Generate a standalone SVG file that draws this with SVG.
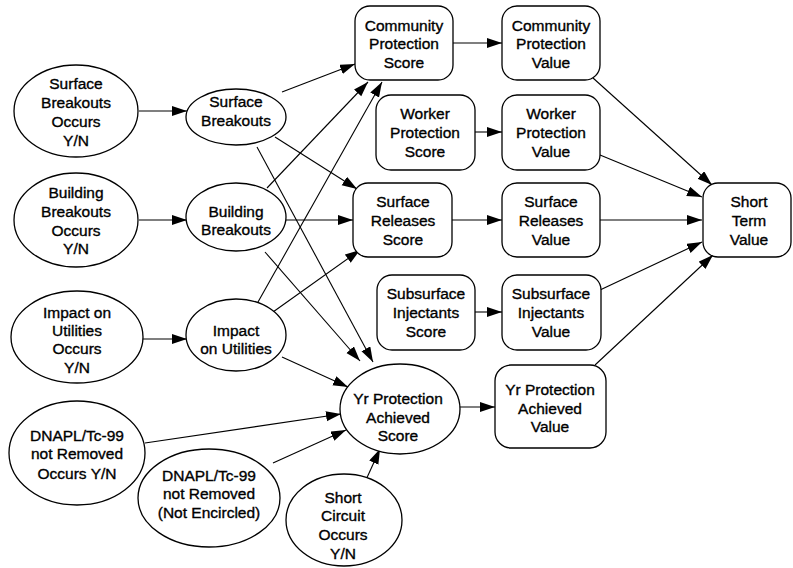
<svg xmlns="http://www.w3.org/2000/svg" width="793" height="568" viewBox="0 0 793 568">
<style>
.n ellipse, .n rect { fill: #fff; stroke: #000; stroke-width: 1.3; }
.n text { font-family: "Liberation Sans", Arial, sans-serif; font-size: 15.5px; fill: #000; stroke: #000; stroke-width: 0.35; text-anchor: middle; }
.e line { stroke: #000; stroke-width: 1.1; marker-end: url(#arr); }
</style>
<defs>
<marker id="arr" markerUnits="userSpaceOnUse" markerWidth="16" markerHeight="12" refX="15" refY="5" orient="auto">
<path d="M0,0 L15,5 L0,10 z" fill="#000"/>
</marker>
</defs>
<rect width="793" height="568" fill="#fff"/>
<g id="connectors" class="e">
<line x1="139" y1="111" x2="187" y2="111"/>
<line x1="139" y1="220" x2="187" y2="220"/>
<line x1="143" y1="339" x2="187" y2="339"/>
<line x1="282" y1="92" x2="355" y2="64"/>
<line x1="267" y1="188" x2="368" y2="82"/>
<line x1="258" y1="302" x2="382" y2="82"/>
<line x1="275" y1="137" x2="357" y2="189"/>
<line x1="286" y1="220" x2="353" y2="220"/>
<line x1="273" y1="312" x2="360" y2="250"/>
<line x1="257" y1="147" x2="373" y2="362"/>
<line x1="265" y1="252" x2="360" y2="361"/>
<line x1="282" y1="357" x2="348" y2="387"/>
<line x1="145" y1="443" x2="341" y2="414"/>
<line x1="273" y1="463" x2="346" y2="430"/>
<line x1="365" y1="482" x2="380" y2="449"/>
<line x1="453" y1="43" x2="502" y2="43"/>
<line x1="475" y1="132" x2="502" y2="132"/>
<line x1="452" y1="220" x2="502" y2="220"/>
<line x1="475" y1="312" x2="502" y2="312"/>
<line x1="459" y1="407" x2="495" y2="407"/>
<line x1="593" y1="78" x2="712" y2="185"/>
<line x1="600" y1="155" x2="702" y2="197"/>
<line x1="600" y1="220" x2="702" y2="220"/>
<line x1="600" y1="290" x2="702" y2="242"/>
<line x1="595" y1="365" x2="713" y2="255"/>
</g>
<g id="surface-breakouts-occurs" class="n">
<ellipse cx="76" cy="111" rx="62" ry="46"/>
<text x="76" y="89">Surface</text><text x="76" y="108">Breakouts</text><text x="76" y="127">Occurs</text><text x="76" y="146">Y/N</text>
</g>
<g id="surface-breakouts" class="n">
<ellipse cx="236" cy="117" rx="50" ry="28"/>
<text x="236" y="107">Surface</text><text x="236" y="126">Breakouts</text>
</g>
<g id="building-breakouts-occurs" class="n">
<ellipse cx="76" cy="220" rx="62" ry="47"/>
<text x="76" y="198">Building</text><text x="76" y="217">Breakouts</text><text x="76" y="236">Occurs</text><text x="76" y="254">Y/N</text>
</g>
<g id="building-breakouts" class="n">
<ellipse cx="236" cy="217" rx="50" ry="34"/>
<text x="236" y="217">Building</text><text x="236" y="235">Breakouts</text>
</g>
<g id="impact-utilities-occurs" class="n">
<ellipse cx="77" cy="337" rx="66" ry="46"/>
<text x="77" y="318">Impact on</text><text x="77" y="336">Utilities</text><text x="77" y="354">Occurs</text><text x="77" y="373">Y/N</text>
</g>
<g id="impact-utilities" class="n">
<ellipse cx="236" cy="335" rx="50" ry="36"/>
<text x="236" y="336">Impact</text><text x="236" y="354">on Utilities</text>
</g>
<g id="dnapl-occurs" class="n">
<ellipse cx="77" cy="453" rx="68" ry="52"/>
<text x="77" y="441">DNAPL/Tc-99</text><text x="77" y="459">not Removed</text><text x="77" y="479">Occurs Y/N</text>
</g>
<g id="dnapl-not-encircled" class="n">
<ellipse cx="209" cy="498" rx="71" ry="49"/>
<text x="209" y="481">DNAPL/Tc-99</text><text x="209" y="499">not Removed</text><text x="209" y="518">(Not Encircled)</text>
</g>
<g id="short-circuit" class="n">
<ellipse cx="344" cy="520" rx="58" ry="46"/>
<text x="343" y="503">Short</text><text x="343" y="521">Circuit</text><text x="343" y="540">Occurs</text><text x="343" y="559">Y/N</text>
</g>
<g id="yr-protection-score" class="n">
<ellipse cx="400" cy="409" rx="60" ry="45"/>
<text x="398" y="404">Yr Protection</text><text x="398" y="423">Achieved</text><text x="398" y="441">Score</text>
</g>
<g id="community-protection-score" class="n">
<rect x="355" y="6" width="98" height="74" rx="15"/>
<text x="404" y="31">Community</text><text x="404" y="49">Protection</text><text x="404" y="68">Score</text>
</g>
<g id="community-protection-value" class="n">
<rect x="502" y="6" width="98" height="74" rx="15"/>
<text x="551" y="31">Community</text><text x="551" y="49">Protection</text><text x="551" y="68">Value</text>
</g>
<g id="worker-protection-score" class="n">
<rect x="376" y="95" width="99" height="75" rx="15"/>
<text x="425" y="119">Worker</text><text x="425" y="138">Protection</text><text x="425" y="157">Score</text>
</g>
<g id="worker-protection-value" class="n">
<rect x="502" y="95" width="98" height="75" rx="15"/>
<text x="551" y="119">Worker</text><text x="551" y="138">Protection</text><text x="551" y="157">Value</text>
</g>
<g id="surface-releases-score" class="n">
<rect x="353" y="183" width="99" height="74" rx="15"/>
<text x="403" y="207">Surface</text><text x="403" y="226">Releases</text><text x="403" y="245">Score</text>
</g>
<g id="surface-releases-value" class="n">
<rect x="502" y="183" width="98" height="74" rx="15"/>
<text x="551" y="207">Surface</text><text x="551" y="226">Releases</text><text x="551" y="245">Value</text>
</g>
<g id="subsurface-injectants-score" class="n">
<rect x="377" y="275" width="98" height="75" rx="15"/>
<text x="426" y="299">Subsurface</text><text x="426" y="318">Injectants</text><text x="426" y="337">Score</text>
</g>
<g id="subsurface-injectants-value" class="n">
<rect x="502" y="275" width="99" height="75" rx="15"/>
<text x="551" y="299">Subsurface</text><text x="551" y="318">Injectants</text><text x="551" y="337">Value</text>
</g>
<g id="yr-protection-value" class="n">
<rect x="495" y="365" width="111" height="83" rx="16"/>
<text x="550" y="395">Yr Protection</text><text x="550" y="414">Achieved</text><text x="550" y="432">Value</text>
</g>
<g id="short-term-value" class="n">
<rect x="703" y="183" width="88" height="74" rx="15"/>
<text x="749" y="207">Short</text><text x="749" y="226">Term</text><text x="749" y="245">Value</text>
</g>
</svg>
